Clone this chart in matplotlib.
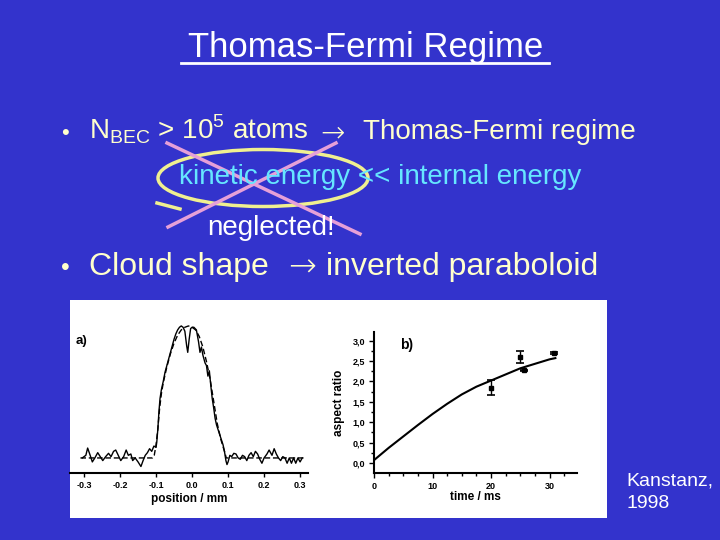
import numpy as np
import matplotlib
matplotlib.use("Agg")
import matplotlib.pyplot as plt
from matplotlib.patches import Rectangle, Ellipse
from matplotlib.ticker import MultipleLocator, FuncFormatter

plt.rcParams['font.family'] = ['Liberation Sans', 'DejaVu Sans']
plt.rcParams['mathtext.fontset'] = 'custom'
plt.rcParams['mathtext.rm'] = 'Liberation Sans'

# slide text
title = "Thomas-Fermi Regime"
bullet1_a = "N$_{\\mathrm{BEC}}$ > 10$^{\\mathrm{5}}$ atoms"
bullet1_b = "Thomas-Fermi regime"
line2 = "kinetic energy << internal energy"
note = "neglected!"
bullet2_a = "Cloud shape"
bullet2_b = "inverted paraboloid"
credit = ["Kanstanz,", "1998"]

# panel a) : density profile (measured, solid) and fit (dashed)
pos_meas = [-0.305, -0.295, -0.290, -0.283, -0.277, -0.270, -0.262, -0.255, -0.248, -0.240,
            -0.232, -0.225, -0.218, -0.212, -0.205, -0.198, -0.190, -0.183, -0.177, -0.170,
            -0.165, -0.158, -0.150, -0.142, -0.136, -0.130, -0.124, -0.118, -0.112, -0.106,
            -0.100, -0.098, -0.095, -0.092, -0.089, -0.085, -0.080, -0.075, -0.070, -0.065,
            -0.060, -0.055, -0.050, -0.045, -0.040, -0.035, -0.030, -0.025, -0.020, -0.015,
            -0.012, -0.008, -0.004, 0.000, 0.005, 0.012, 0.018, 0.022, 0.026, 0.030,
            0.036, 0.040, 0.044, 0.048, 0.052, 0.056, 0.060, 0.064, 0.068, 0.074,
            0.080, 0.086, 0.090, 0.094, 0.097, 0.100, 0.105, 0.110, 0.116, 0.122,
            0.128, 0.134, 0.140, 0.146, 0.152, 0.158, 0.164, 0.170, 0.176, 0.182,
            0.188, 0.194, 0.200, 0.208, 0.214, 0.222, 0.228, 0.234, 0.240, 0.246,
            0.252, 0.258, 0.264, 0.270, 0.276, 0.282, 0.288, 0.294, 0.300, 0.306]
dens_meas = [0.00, 0.02, 0.075, 0.02, -0.03, 0.00, 0.04, 0.01, -0.02, 0.01,
             0.035, 0.01, 0.05, 0.06, 0.02, -0.02, 0.01, 0.06, 0.02, 0.03,
             -0.02, 0.00, -0.03, -0.065, -0.02, 0.02, 0.04, 0.07, 0.05, 0.09,
             0.08, 0.12, 0.22, 0.35, 0.45, 0.52, 0.58, 0.65, 0.70, 0.75,
             0.80, 0.85, 0.90, 0.94, 0.97, 0.99, 1.00, 0.99, 0.96, 0.85,
             0.80, 0.90, 0.98, 0.99, 0.99, 0.97, 0.88, 0.80, 0.84, 0.78,
             0.72, 0.70, 0.62, 0.66, 0.55, 0.45, 0.38, 0.30, 0.25, 0.20,
             0.15, 0.10, 0.05, -0.02, -0.05, -0.03, 0.02, 0.01, 0.035, 0.03,
             0.00, -0.01, 0.02, 0.01, -0.02, 0.02, 0.04, 0.01, 0.05, 0.03,
             -0.01, -0.04, 0.00, 0.03, 0.06, 0.02, 0.07, 0.03, 0.00, -0.02,
             0.01, 0.00, -0.04, 0.00, -0.04, 0.00, -0.04, 0.00, -0.03, 0.00]

pos_fit = [-0.310, -0.110, -0.105, -0.100, -0.095, -0.090, -0.085, -0.080, -0.070, -0.060,
           -0.050, -0.040, -0.030, -0.020, -0.010, 0.000, 0.010, 0.020, 0.030, 0.040,
           0.050, 0.060, 0.070, 0.080, 0.090, 0.095, 0.310]
dens_fit = [0.00, 0.00, 0.02, 0.10, 0.22, 0.38, 0.49, 0.57, 0.69, 0.79,
            0.87, 0.93, 0.97, 0.99, 1.00, 0.99, 0.97, 0.92, 0.84, 0.73,
            0.60, 0.43, 0.26, 0.14, 0.05, 0.00, 0.00]

# panel b) : aspect ratio vs time of flight
t_theory = [0, 2.5, 5, 7.5, 10, 12.5, 15, 17.5, 20, 22.5, 25, 27.5, 30, 31]
ar_theory = [0.07, 0.37, 0.65, 0.93, 1.20, 1.45, 1.68, 1.87, 2.02, 2.17, 2.32, 2.43, 2.54, 2.57]
t_meas = [20.0, 24.9, 25.6, 30.7]
ar_meas = [1.85, 2.60, 2.27, 2.70]
ar_err = [0.18, 0.14, 0.02, 0.02]

BG = '#3333CC'
YELLOW = '#FFFFCC'
CYAN = '#66E6FF'
PINK = '#E6A0D8'
CIRCLE = '#F0F090'

fig = plt.figure(figsize=(7.2, 5.4), dpi=100, facecolor=BG)

# background axes in pixel coords for slide text and drawings
bg = fig.add_axes([0, 0, 1, 1], zorder=0)
bg.set_xlim(0, 720)
bg.set_ylim(540, 0)
bg.axis('off')

bg.add_patch(Rectangle((70, 300), 537, 218, facecolor='white', edgecolor='none'))

bg.text(366, 57, title, color='white', fontsize=25, ha='center', va='baseline')
bg.plot([181, 549], [63, 63], color='white', lw=2)

bg.text(65, 139, "•", color=YELLOW, fontsize=16, ha='center', va='baseline')
bg.text(89, 139, bullet1_a, color=YELLOW, fontsize=20, ha='left', va='baseline')
bg.text(333, 141, "→", color=YELLOW, fontsize=21, ha='center', va='baseline',
        family='DejaVu Sans', fontweight='light')
bg.text(363, 139, bullet1_b, color=YELLOW, fontsize=20, ha='left', va='baseline')

bg.text(179, 184, line2, color=CYAN, fontsize=20, ha='left', va='baseline')
bg.text(207, 235, note, color='white', fontsize=20, ha='left', va='baseline')

bg.text(65, 275, "•", color=YELLOW, fontsize=18, ha='center', va='baseline')
bg.text(89, 275, bullet2_a, color=YELLOW, fontsize=23, ha='left', va='baseline')
bg.text(302, 277, "→", color=YELLOW, fontsize=24, ha='center', va='baseline',
        family='DejaVu Sans', fontweight='light')
bg.text(326, 275, bullet2_b, color=YELLOW, fontsize=23, ha='left', va='baseline')

bg.text(626, 486, credit[0], color='white', fontsize=14, ha='left', va='baseline')
bg.text(626, 508, credit[1], color='white', fontsize=14, ha='left', va='baseline')

# hand drawn circle and cross
bg.add_patch(Ellipse((263, 178), 210, 57, fill=False, edgecolor=CIRCLE, lw=2.5))
bg.plot([157, 180], [203, 209], color=CIRCLE, lw=2.5)
bg.plot([167, 360], [143, 234], color=PINK, lw=2.5)
bg.plot([336, 168], [143, 227], color=PINK, lw=2.5)

tick_font = dict(fontsize=6.5, fontweight='bold')
label_font = dict(fontsize=8.5, fontweight='bold')

# panel a)
ax1 = fig.add_axes([70 / 720, 1 - 473 / 540, 238 / 720, 153 / 540], zorder=1)
ax1.set_facecolor('none')
ax1.plot(pos_meas, dens_meas, color='black', lw=1.0)
ax1.plot(pos_fit, dens_fit, color='black', lw=1.0, ls=(0, (4, 2)))
ax1.set_xlim(-0.339, 0.322)
ax1.set_ylim(-0.114, 1.045)
for s in ['top', 'right', 'left']:
    ax1.spines[s].set_visible(False)
ax1.spines['bottom'].set_linewidth(1.5)
ax1.set_yticks([])
ax1.set_xticks([-0.3, -0.2, -0.1, 0.0, 0.1, 0.2, 0.3])
ax1.set_xticklabels(['-0.3', '-0.2', '-0.1', '0.0', '0.1', '0.2', '0.3'], **tick_font)
ax1.tick_params(axis='x', length=3, width=1, pad=3)
ax1.set_xlabel('position / mm', labelpad=2, **label_font)
ax1.text(-0.322, 0.86, 'a)', fontsize=9.5, fontweight='bold')

# panel b)
ax2 = fig.add_axes([374 / 720, 1 - 473 / 540, 203 / 720, 141 / 540], zorder=1)
ax2.set_facecolor('none')
ax2.plot(t_theory, ar_theory, color='black', lw=1.5)
ax2.errorbar(t_meas, ar_meas, yerr=ar_err, fmt='s', color='black', ms=3,
             capsize=3, elinewidth=1, capthick=1.2)
for s in ['top', 'right']:
    ax2.spines[s].set_visible(False)
ax2.spines['bottom'].set_linewidth(1.5)
ax2.spines['left'].set_linewidth(1.5)
ax2.xaxis.set_major_locator(MultipleLocator(10))
ax2.xaxis.set_minor_locator(MultipleLocator(2.5))
ax2.yaxis.set_major_locator(MultipleLocator(0.5))
ax2.yaxis.set_minor_locator(MultipleLocator(0.25))
ax2.set_xlim(0, 34.7)
ax2.set_ylim(-0.245, 3.21)
ax2.xaxis.set_major_formatter(FuncFormatter(lambda v, p: f"{v:.0f}"))
ax2.yaxis.set_major_formatter(FuncFormatter(lambda v, p: f"{v:.1f}".replace('.', ',')))
for lab in ax2.get_xticklabels() + ax2.get_yticklabels():
    lab.set_fontsize(6.5)
    lab.set_fontweight('bold')
ax2.tick_params(which='major', length=3.5, width=1, pad=3)
ax2.tick_params(which='minor', length=2.5, width=1)
ax2.set_xlabel('time / ms', labelpad=0, **label_font)
ax2.set_ylabel('aspect ratio', labelpad=5, **label_font)
ax2.text(4.5, 2.8, 'b)', fontsize=10, fontweight='bold')

fig.savefig('out.png', dpi=100, facecolor=BG)
